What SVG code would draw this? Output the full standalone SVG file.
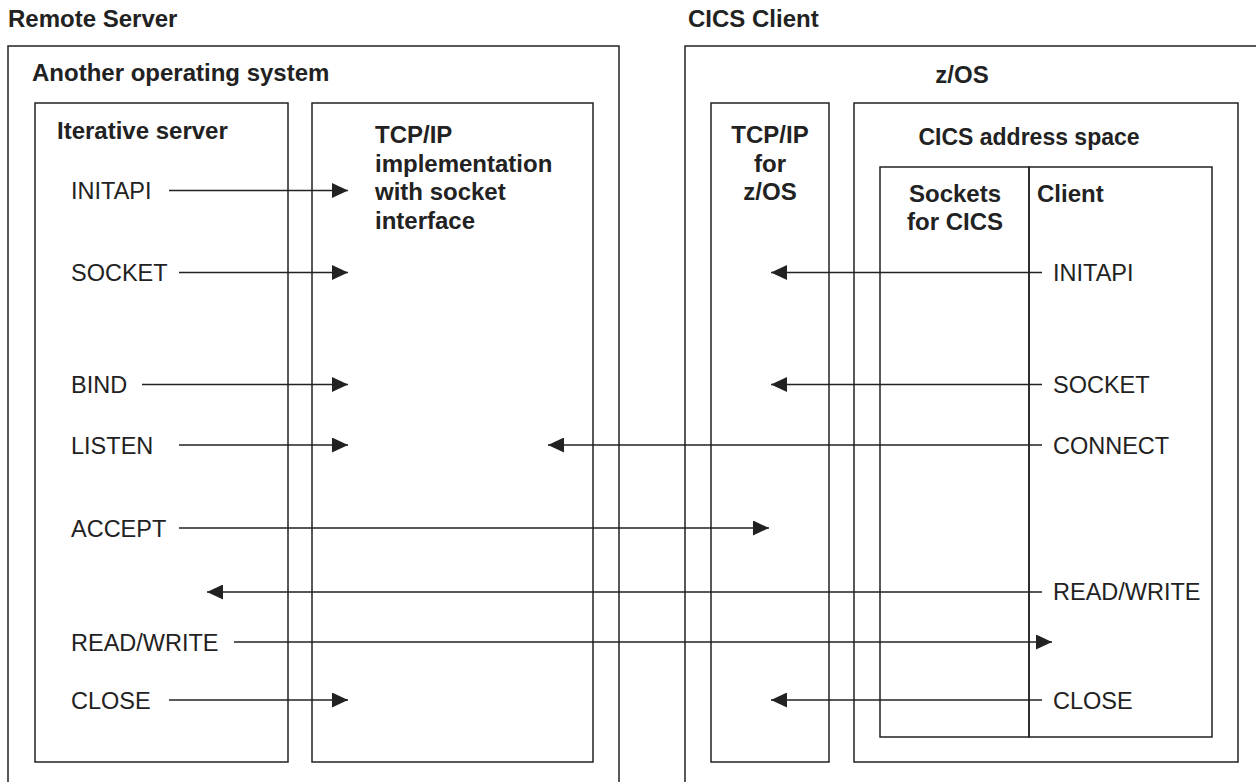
<svg xmlns="http://www.w3.org/2000/svg" width="1256" height="782" viewBox="0 0 1256 782">
<style>
.box{fill:none;stroke:#222;stroke-width:1.5}
.ln{fill:none;stroke:#222;stroke-width:1.5}
.t{font-family:"Liberation Sans",Arial,Helvetica,sans-serif;font-size:23.5px;fill:#222}
.b{font-family:"Liberation Sans",Arial,Helvetica,sans-serif;font-size:24px;font-weight:bold;fill:#222}
.m{text-anchor:middle}
</style>
<defs>
<marker id="ah" markerUnits="userSpaceOnUse" markerWidth="16" markerHeight="15" refX="16" refY="7.5" orient="auto">
<path d="M0,0 L16,7.5 L0,15 Z" fill="#222"/>
</marker>
</defs>
<rect width="1256" height="782" fill="#fff"/>
<text class="b" x="8" y="27">Remote Server</text>
<text class="b" x="688" y="27">CICS Client</text>
<g id="remote-os">
<path class="box" d="M8,800 V46 H619 V800"/>
<text class="b" x="32" y="81">Another operating system</text>
</g>
<g id="iterative-server">
<rect class="box" x="35" y="103" width="253" height="659"/>
<text class="b" x="57" y="139">Iterative server</text>
<text class="t" x="71" y="199">INITAPI</text>
<text class="t" x="71" y="281">SOCKET</text>
<text class="t" x="71" y="393">BIND</text>
<text class="t" x="71" y="453.5">LISTEN</text>
<text class="t" x="71" y="536.5">ACCEPT</text>
<text class="t" x="71" y="650.5">READ/WRITE</text>
<text class="t" x="71" y="708.5">CLOSE</text>
</g>
<g id="tcpip-impl">
<rect class="box" x="312" y="103" width="281" height="659"/>
<text class="b" x="375" y="143">TCP/IP</text>
<text class="b" x="375" y="171.5">implementation</text>
<text class="b" x="375" y="200">with socket</text>
<text class="b" x="375" y="228.5">interface</text>
</g>
<g id="zos">
<path class="box" d="M685,800 V46 H1270"/>
<text class="b m" x="962" y="83">z/OS</text>
</g>
<g id="tcpip-zos">
<rect class="box" x="711" y="103" width="118" height="659"/>
<text class="b m" x="770" y="143">TCP/IP</text>
<text class="b m" x="770" y="171.5">for</text>
<text class="b m" x="770" y="200">z/OS</text>
</g>
<g id="cics-space">
<rect class="box" x="854" y="103" width="384" height="659"/>
<text class="b m" x="1029" y="145" style="font-size:23px">CICS address space</text>
</g>
<g id="sockets-for-cics">
<rect class="box" x="880" y="167" width="149" height="570"/>
<text class="b m" x="955" y="202">Sockets</text>
<text class="b m" x="955" y="230">for CICS</text>
</g>
<g id="client">
<rect class="box" x="1029" y="167" width="183" height="570"/>
<text class="b" x="1037" y="202">Client</text>
<text class="t" x="1053" y="281">INITAPI</text>
<text class="t" x="1053" y="393">SOCKET</text>
<text class="t" x="1053" y="453.5">CONNECT</text>
<text class="t" x="1053" y="600">READ/WRITE</text>
<text class="t" x="1053" y="708.5">CLOSE</text>
</g>
<g id="connectors">
<line class="ln" x1="169" y1="190.5" x2="348" y2="190.5" marker-end="url(#ah)"/>
<line class="ln" x1="179" y1="272.5" x2="348" y2="272.5" marker-end="url(#ah)"/>
<line class="ln" x1="142" y1="384.5" x2="348" y2="384.5" marker-end="url(#ah)"/>
<line class="ln" x1="179" y1="445" x2="348" y2="445" marker-end="url(#ah)"/>
<line class="ln" x1="179" y1="528" x2="769" y2="528" marker-end="url(#ah)"/>
<line class="ln" x1="234" y1="642" x2="1052" y2="642" marker-end="url(#ah)"/>
<line class="ln" x1="169" y1="700" x2="348" y2="700" marker-end="url(#ah)"/>
<line class="ln" x1="1042" y1="272.5" x2="771" y2="272.5" marker-end="url(#ah)"/>
<line class="ln" x1="1042" y1="384.5" x2="771" y2="384.5" marker-end="url(#ah)"/>
<line class="ln" x1="1042" y1="445" x2="548" y2="445" marker-end="url(#ah)"/>
<line class="ln" x1="1042" y1="592" x2="207" y2="592" marker-end="url(#ah)"/>
<line class="ln" x1="1042" y1="700" x2="771" y2="700" marker-end="url(#ah)"/>
</g>
</svg>
